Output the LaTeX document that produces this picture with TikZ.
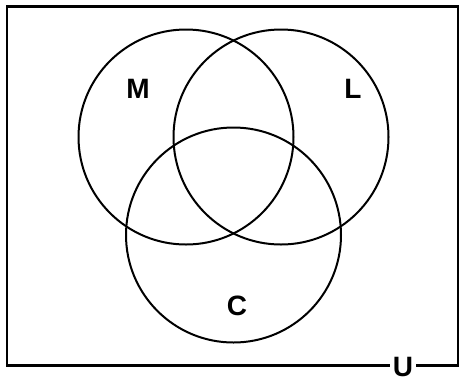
\documentclass[tikz,border=0pt]{standalone}
\usepackage{fontspec}
\setmainfont{Liberation Sans}
\begin{document}
\begin{tikzpicture}[x=1pt,y=-1pt,
  setcircle/.style={draw=black,line width=2pt,circle,minimum size=215pt,inner sep=0pt},
  setlabel/.style={font=\bfseries\fontsize{28}{28}\selectfont,inner sep=0pt},
  universe/.style={draw=black,line width=2.5pt}]
\useasboundingbox (0,0) rectangle (460,381);
\node[draw=none,inner sep=0pt,minimum width=451pt,minimum height=359pt] (box) at (232.5,186) {};
\draw[universe] (box.north west) rectangle (box.south east);
\node[setcircle] (M) at (186,137) {};
\node[setcircle] (L) at (281,137) {};
\node[setcircle] (C) at (233.5,235) {};
\node[setlabel] (m) at (138,89) {M};
\node[setlabel] (l) at (353,89) {L};
\node[setlabel] (c) at (237,306) {C};
\node[setlabel,fill=white,inner xsep=3pt,inner ysep=1pt] (u) at (403,367) {U};
\end{tikzpicture}
\end{document}
